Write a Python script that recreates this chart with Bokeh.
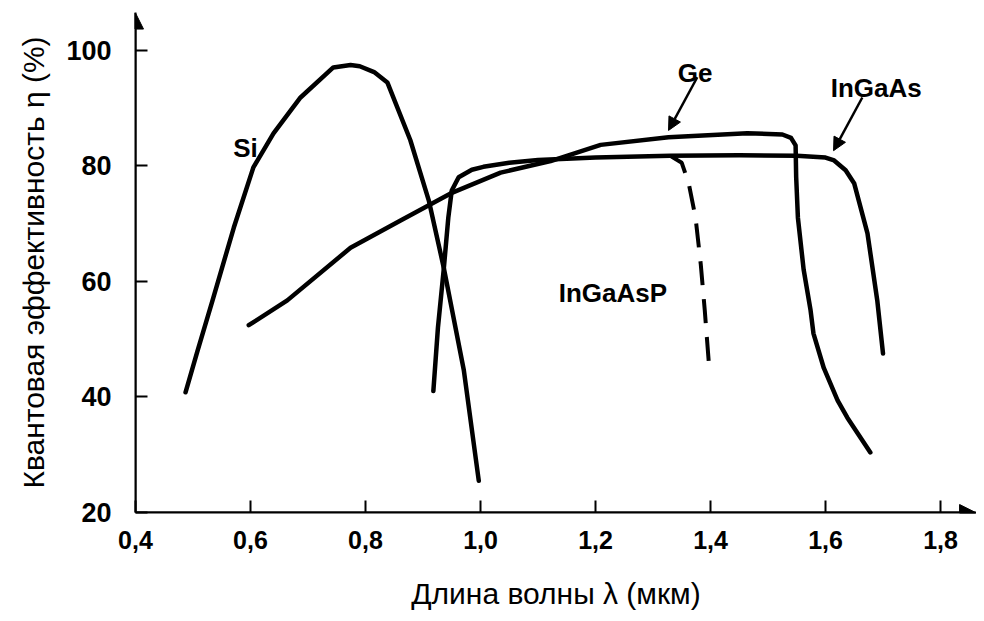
from bokeh.plotting import figure
from bokeh.models import Range1d, FixedTicker, CustomJSTickFormatter, Arrow, NormalHead, Label
from bokeh.embed import file_html
from bokeh.resources import INLINE

# ---- data ----
si_x = [0.487, 0.508, 0.534, 0.571, 0.605, 0.640, 0.687, 0.744, 0.774, 0.790, 0.815, 0.838, 0.878, 0.910, 0.936, 0.971, 0.997]
si_y = [40.8, 48.0, 56.7, 69.3, 79.7, 85.6, 91.8, 97.0, 97.4, 97.2, 96.2, 94.4, 84.4, 74.0, 62.4, 44.6, 25.5]

ge_x = [0.597, 0.664, 0.774, 0.861, 0.948, 1.035, 1.122, 1.209, 1.327, 1.464, 1.525, 1.540, 1.548, 1.549, 1.552, 1.562, 1.574, 1.579, 1.597, 1.621, 1.638, 1.678]
ge_y = [52.4, 56.7, 65.8, 70.5, 75.2, 78.8, 80.8, 83.6, 84.9, 85.6, 85.4, 84.8, 83.5, 78.0, 71.0, 62.0, 55.0, 51.0, 45.0, 39.4, 36.4, 30.4]

ingaas_x = [0.918, 0.926, 0.936, 0.944, 0.950, 0.962, 0.985, 1.005, 1.05, 1.10, 1.20, 1.33, 1.45, 1.55, 1.60, 1.615, 1.635, 1.650, 1.673, 1.690, 1.700]
ingaas_y = [41.0, 52.0, 62.0, 71.0, 75.7, 78.0, 79.3, 79.8, 80.5, 81.0, 81.4, 81.7, 81.8, 81.7, 81.4, 80.9, 79.2, 76.9, 68.3, 56.7, 47.5]

ingaasp_x = [1.330, 1.350, 1.362, 1.374, 1.383, 1.390, 1.397]
ingaasp_y = [81.7, 80.5, 77.0, 71.0, 63.0, 55.0, 46.0]

x_ticks = [0.4, 0.6, 0.8, 1.0, 1.2, 1.4, 1.6, 1.8]
y_ticks = [20, 40, 60, 80, 100]

curve_labels = ["Si", "Ge", "InGaAs", "InGaAsP"]
label_x = [0.570, 1.343, 1.609, 1.136]
label_y = [83.0, 96.1, 93.4, 57.9]

# arrows pointing to curves: (x_start, y_start, x_end, y_end)
ptr_ge = (1.377, 95.3, 1.327, 86.1)
ptr_ingaas = (1.664, 91.8, 1.614, 82.6)

FONT = "Liberation Sans"

p = figure(width=976, height=613, output_backend="svg", toolbar_location=None,
           x_range=Range1d(0.4, 1.8626), y_range=Range1d(20, 106.5),
           min_border_left=135, min_border_right=0, min_border_top=12, min_border_bottom=101)
p.outline_line_color = None
p.xgrid.visible = False
p.ygrid.visible = False

for ax in (p.xaxis[0], p.yaxis[0]):
    ax.axis_line_width = 2
    ax.axis_line_color = "black"
    ax.major_tick_in = 12
    ax.major_tick_out = 0
    ax.major_tick_line_width = 2
    ax.major_tick_line_color = "black"
    ax.minor_tick_line_color = None
    ax.major_label_text_font = FONT
    ax.major_label_text_font_style = "bold"
    ax.major_label_text_color = "black"
    ax.axis_label_text_font = FONT
    ax.axis_label_text_font_style = "normal"
    ax.axis_label_text_color = "black"

p.xaxis.ticker = FixedTicker(ticks=x_ticks)
p.yaxis.ticker = FixedTicker(ticks=y_ticks)
p.xaxis.formatter = CustomJSTickFormatter(code="return tick.toFixed(1).replace('.', ',');")
p.xaxis.major_label_text_font_size = "25px"
p.yaxis.major_label_text_font_size = "27px"
p.xaxis.major_label_standoff = 18
p.yaxis.major_label_standoff = 24
p.xaxis.axis_label = "Длина волны λ (мкм)"
p.yaxis.axis_label = "Квантовая эффективность η (%)"
p.xaxis.axis_label_text_font_size = "30px"
p.yaxis.axis_label_text_font_size = "30px"
p.xaxis.axis_label_standoff = 25
p.yaxis.axis_label_standoff = 13

# axis arrows
p.add_layout(Arrow(x_start=0.4, y_start=20, x_end=0.4, y_end=106.4, line_width=2,
                   end=NormalHead(size=16, fill_color="black", line_color="black")))
p.add_layout(Arrow(x_start=0.4, y_start=20, x_end=1.861, y_end=20, line_width=2,
                   end=NormalHead(size=16, fill_color="black", line_color="black")))

lw = 4.5
p.line(si_x, si_y, line_width=lw, color="black", line_join="round", line_cap="round")
p.line(ge_x, ge_y, line_width=lw, color="black", line_join="round", line_cap="round")
p.line(ingaas_x, ingaas_y, line_width=lw, color="black", line_join="round", line_cap="round")
p.line(ingaasp_x, ingaasp_y, line_width=4, color="black", line_dash="24 14")

for t, lx, ly in zip(curve_labels, label_x, label_y):
    p.add_layout(Label(x=lx, y=ly, text=t, text_font=FONT, text_font_size="26px",
                       text_font_style="bold", text_color="black",
                       text_align="left", text_baseline="alphabetic"))

for (xs, ys, xe, ye) in (ptr_ge, ptr_ingaas):
    p.add_layout(Arrow(x_start=xs, y_start=ys, x_end=xe, y_end=ye, line_width=2.5,
                       end=NormalHead(size=13, fill_color="black", line_color="black")))

open("out.html", "w").write(file_html(p, INLINE))
